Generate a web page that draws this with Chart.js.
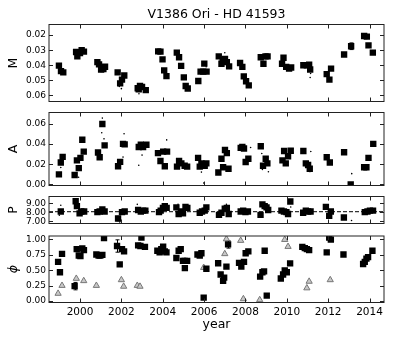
<!DOCTYPE html>
<html>
<head>
<meta charset="utf-8">
<script src="https://cdn.jsdelivr.net/npm/chart.js@4.4.0/dist/chart.umd.min.js"></script>
<style>
  body { margin: 0; background: #fff; }
  #wrap { position: relative; width: 403px; height: 337px; }
  canvas { position: absolute; left: 0; }
</style>
</head>
<body>
<div id="wrap">
  <canvas id="chartM" width="403" height="106" style="top:0px"></canvas>
  <canvas id="chartA" width="403" height="82" style="top:108px"></canvas>
  <canvas id="chartP" width="403" height="36" style="top:192px"></canvas>
  <canvas id="chartPh" width="403" height="106" style="top:231px"></canvas>
</div>
<script>
const xTicks = [2000, 2002, 2004, 2006, 2008, 2010, 2012, 2014];
const mTicks = [0.02, 0.03, 0.04, 0.05, 0.06];
const aTicks = [0.00, 0.02, 0.04, 0.06];
const pTicks = [7, 8, 9];
const phTicks = [0, 0.25, 0.5, 0.75, 1];

// M panel
const mYear = [
  1998.98, 1999.08, 1999.19,
  1999.81, 1999.87, 2000.00, 2000.08, 2000.19,
  2000.84, 2000.92, 2001.02, 2001.13, 2001.21,
  2001.82, 2001.94, 2002.03, 2002.14,
  2002.79, 2002.84, 2002.90, 2003.00, 2003.18,
  2003.78, 2003.89, 2003.99, 2004.07, 2004.18,
  2004.68, 2004.79, 2004.89, 2005.02, 2005.11, 2005.21,
  2005.72, 2005.83, 2005.96, 2006.01, 2006.12,
  2006.71, 2006.84, 2006.90, 2007.01, 2007.10, 2007.21,
  2007.74, 2007.85, 2007.92, 2008.03, 2008.16,
  2008.74, 2008.87, 2008.97, 2009.07,
  2009.77, 2009.84, 2009.97, 2010.11, 2010.21,
  2010.80, 2010.97, 2011.08, 2011.13,
  2011.93, 2012.06, 2012.14,
  2012.77, 2013.11,
  2013.74, 2013.87, 2013.95, 2014.16
];
const mVal = [
  0.0402, 0.0439, 0.0447,
  0.0312, 0.0341, 0.0320, 0.0300, 0.0310,
  0.0379, 0.0394, 0.0428, 0.0425, 0.0410,
  0.0447, 0.0520, 0.0495, 0.0468,
  0.0552, 0.0560, 0.0537, 0.0544, 0.0565,
  0.0308, 0.0310, 0.0361, 0.0434, 0.0472,
  0.0316, 0.0347, 0.0404, 0.0480, 0.0537, 0.0554,
  0.0504, 0.0442, 0.0442, 0.0389, 0.0442,
  0.0341, 0.0390, 0.0365, 0.0358, 0.0379, 0.0407,
  0.0385, 0.0411, 0.0474, 0.0506, 0.0533,
  0.0347, 0.0390, 0.0341, 0.0341,
  0.0390, 0.0350, 0.0411, 0.0422, 0.0415,
  0.0400, 0.0400, 0.0396, 0.0428,
  0.0459, 0.0495, 0.0422,
  0.0329, 0.0274,
  0.0206, 0.0210, 0.0268, 0.0316
];
const mDotYear = [2002.00, 2002.85, 2007.00, 2011.13, 2011.15, 2006.10, 2001.90];
const mDotVal = [0.0555, 0.0589, 0.0317, 0.0481, 0.0455, 0.0410, 0.0540];
const mErr = [[2013.11, 0.0274, 0.0022]];

// A panel
const aYear = [
  1998.98, 1999.07, 1999.16,
  1999.74, 1999.85, 1999.94, 2000.02, 2000.11, 2000.18,
  2000.87, 2000.95, 2001.08, 2001.19,
  2001.84, 2001.94, 2002.08, 2002.16,
  2002.84, 2002.94, 2003.05, 2003.21,
  2003.77, 2003.89, 2004.02, 2004.10, 2004.21,
  2004.69, 2004.79, 2004.90, 2005.06, 2005.18,
  2005.71, 2005.79, 2005.87, 2006.03, 2006.11,
  2006.69, 2006.84, 2006.92, 2007.01, 2007.10, 2007.18,
  2007.77, 2007.85, 2007.93, 2008.01, 2008.14,
  2008.74, 2008.85, 2008.98, 2009.06,
  2009.79, 2009.87, 2009.95, 2010.06, 2010.19,
  2010.80, 2010.92, 2011.03, 2011.11,
  2011.93, 2012.08,
  2012.77, 2013.09,
  2013.74, 2013.85, 2013.95, 2014.18
];
const aVal = [
  0.0100, 0.0217, 0.0272,
  0.0093, 0.0238, 0.0161, 0.0263, 0.0441, 0.0324,
  0.0315, 0.0269, 0.0597, 0.0386,
  0.0180, 0.0223, 0.0401, 0.0395,
  0.0370, 0.0392, 0.0370, 0.0392,
  0.0309, 0.0232, 0.0324, 0.0180, 0.0324,
  0.0176, 0.0232, 0.0208, 0.0185, 0.0176,
  0.0263, 0.0176, 0.0208, 0.0185, 0.0208,
  0.0118, 0.0254, 0.0170, 0.0340, 0.0309, 0.0155,
  0.0361, 0.0370, 0.0355, 0.0222, 0.0254,
  0.0377, 0.0185, 0.0254, 0.0208,
  0.0238, 0.0330, 0.0208, 0.0278, 0.0333,
  0.0330, 0.0208, 0.0192, 0.0155,
  0.0269, 0.0217,
  0.0318, 0.0000,
  0.0170, 0.0170, 0.0263, 0.0401
];
const aDotYear = [2001.08, 2001.05, 2001.16, 2002.13, 2002.08, 2002.84, 2003.00, 2004.19, 2005.98,
  2005.87, 1999.93, 1999.07, 2008.25, 2008.79, 2009.11, 2008.82, 2011.16, 2013.14, 2011.12];
const aDotVal = [0.0655, 0.0510, 0.0450, 0.0500, 0.0270, 0.0190, 0.0290, 0.0440, 0.0015,
  0.0122, 0.0072, 0.0167, 0.0365, 0.0306, 0.0125, 0.0148, 0.0325, 0.0107, 0.0127];
const aErr = [[2000.11, 0.0441, 0.0022], [2001.08, 0.0597, 0.0015], [2002.08, 0.0401, 0.0015],
  [2007.01, 0.0340, 0.0020], [2008.74, 0.0377, 0.0020], [2010.19, 0.0333, 0.0020], [2012.77, 0.0318, 0.0012]];

// P panel
const pYear = [
  1999.07, 1999.79, 1999.85, 1999.98, 2000.06, 2000.20,
  2000.84, 2000.95, 2001.08, 2001.19,
  2001.84, 2002.03, 2002.16,
  2002.81, 2002.94, 2003.05, 2003.16,
  2003.82, 2003.90, 2004.01, 2004.10, 2004.19,
  2004.66, 2004.77, 2004.88, 2004.98, 2005.10, 2005.19,
  2005.79, 2005.90, 2006.03, 2006.11,
  2006.72, 2006.84, 2007.00, 2007.10, 2007.19,
  2007.77, 2007.89, 2008.00, 2008.12,
  2008.73, 2008.82, 2008.93, 2009.02, 2009.10,
  2009.74, 2009.86, 2009.98, 2010.06, 2010.17,
  2010.79, 2010.92, 2011.03, 2011.15,
  2011.89, 2012.05, 2012.13,
  2012.76,
  2013.77, 2013.90, 2014.02, 2014.17
];
const pVal = [
  8.10, 9.24, 8.70, 7.90, 8.10, 8.10,
  8.03, 8.10, 8.33, 8.10,
  7.32, 8.03, 8.10,
  8.27, 8.10, 8.20, 8.20,
  8.03, 8.20, 8.50, 8.70, 8.50,
  8.56, 7.82, 8.10, 7.90, 8.60, 8.50,
  7.97, 8.10, 8.20, 8.56,
  7.73, 7.97, 8.42, 8.50, 7.82,
  8.10, 8.20, 8.03, 8.10,
  7.73, 8.90, 8.70, 8.56, 8.27,
  8.20, 8.10, 8.03, 7.82, 9.21,
  7.97, 8.20, 8.10, 8.10,
  8.62, 7.62, 8.10,
  7.44,
  8.03, 8.10, 8.20, 8.20
];
const pDotYear = [1999.07, 2002.77, 2004.74, 2007.08, 2001.92, 2013.13, 2010.19, 1999.00, 2004.90];
const pDotVal = [8.80, 8.90, 8.90, 8.90, 6.94, 7.10, 8.60, 7.70, 7.70];
const pMean = 8.08;
const pErr = [[2001.84, 7.32, 0.25]];

// phase panel
const phYear = [
  1998.94, 1999.03, 1999.13,
  1999.74, 1999.84, 1999.94, 2000.02, 2000.11, 2000.19,
  2000.79, 2000.90, 2000.98, 2001.08, 2001.16,
  2001.79, 2001.92, 2002.03, 2002.13,
  2002.81, 2002.92, 2002.97, 2003.14,
  2003.74, 2003.85, 2003.93, 2004.02, 2004.10, 2004.18,
  2004.66, 2004.77, 2004.87, 2004.98, 2005.06, 2005.07, 2005.18,
  2005.68, 2005.79, 2005.87, 2005.98, 2006.11,
  2006.68, 2006.80, 2006.92, 2006.97, 2007.08, 2007.16,
  2007.69, 2007.80, 2007.93, 2008.01, 2008.14,
  2008.71, 2008.82, 2008.90, 2008.93, 2009.03,
  2009.71, 2009.82, 2009.90, 2010.00, 2010.16,
  2010.75, 2010.87, 2010.97, 2011.08,
  2011.93, 2012.05, 2012.13,
  2012.74,
  2013.69, 2013.77, 2013.85, 2013.93, 2014.14
];
const phVal = [
  0.635, 0.466, 0.765,
  0.242, 0.842, 0.738, 0.728, 0.851, 0.826,
  0.754, 0.738, 0.738, 0.749, 1.020,
  0.892, 0.595, 0.842, 0.805,
  0.903, 0.892, 1.030, 0.877,
  0.815, 0.789, 0.842, 0.882, 0.805, 0.789,
  0.697, 0.815, 0.842, 0.651, 0.651, 0.534, 0.651,
  0.754, 0.738, 0.774, 0.057, 0.523,
  0.612, 0.431, 0.328, 0.380, 0.558, 0.918,
  0.618, 0.557, 0.635, 0.774, 0.805,
  0.395, 0.466, 0.482, 0.815, 0.088,
  0.365, 0.431, 0.497, 0.466, 0.611,
  0.877, 0.857, 0.842, 0.826,
  0.789, 1.030, 0.995,
  0.754,
  0.600, 0.635, 0.688, 0.712, 0.815
];
const triYear = [1998.94, 1999.13, 1999.82, 2000.18, 2000.79, 2002.00, 2002.11, 2002.77, 2002.90, 2005.98,
  2007.00, 2007.08, 2007.77, 2007.90, 2008.69, 2009.90, 2010.06, 2010.97, 2011.08, 2012.10];
const triVal = [0.123, 0.251, 0.365, 0.328, 0.251, 0.343, 0.237, 0.251, 0.237, 0.542,
  0.765, 1.005, 0.980, 0.035, 0.020, 0.995, 0.882, 0.211, 0.318, 0.343];
const phErr = [[1999.74, 0.242, 0.06], [2001.79, 0.892, 0.10], [2007.16, 0.918, 0.06]];

Chart.defaults.font.family = 'DejaVu Sans';
Chart.defaults.color = '#000';

const pts = (xs, ys) => xs.map((x, i) => ({x: x, y: ys[i]}));

// inward ticks on all sides plus the box, like the original figure
const frame = {
  id: 'frame',
  afterDatasetsDraw(chart) {
    const {ctx, chartArea: a, scales: {x, y}} = chart;
    ctx.save();
    ctx.strokeStyle = '#222';
    ctx.lineWidth = 1;
    ctx.beginPath();
    xTicks.forEach(v => {
      const px = Math.round(x.getPixelForValue(v)) + 0.5;
      ctx.moveTo(px, a.top); ctx.lineTo(px, a.top + 4);
      ctx.moveTo(px, a.bottom); ctx.lineTo(px, a.bottom - 4);
    });
    y.ticks.forEach(t => {
      const py = Math.round(y.getPixelForValue(t.value)) + 0.5;
      ctx.moveTo(a.left, py); ctx.lineTo(a.left + 4, py);
      ctx.moveTo(a.right, py); ctx.lineTo(a.right - 4, py);
    });
    ctx.stroke();
    ctx.strokeRect(a.left, a.top, a.right - a.left, a.bottom - a.top);
    ctx.restore();
  }
};

function errBars(list) {
  return {
    id: 'errbars',
    beforeDatasetsDraw(chart) {
      const {ctx, scales: {x, y}} = chart;
      ctx.save();
      ctx.strokeStyle = '#000';
      ctx.lineWidth = 1;
      ctx.beginPath();
      list.forEach(([xv, yv, e]) => {
        const px = Math.round(x.getPixelForValue(xv)) + 0.5;
        const y1 = y.getPixelForValue(yv - e), y2 = y.getPixelForValue(yv + e);
        ctx.moveTo(px, y1); ctx.lineTo(px, y2);
        ctx.moveTo(px - 2, y1); ctx.lineTo(px + 2, y1);
        ctx.moveTo(px - 2, y2); ctx.lineTo(px + 2, y2);
      });
      ctx.stroke();
      ctx.restore();
    }
  };
}

function panel(id, o) {
  const datasets = [
    {data: pts(o.year, o.val), pointStyle: 'rect', radius: 4.5, backgroundColor: '#000', borderColor: '#000', borderWidth: 0, clip: 0}
  ];
  if (o.tri) datasets.push({data: pts(o.tri[0], o.tri[1]), pointStyle: 'triangle', radius: 3.6,
    backgroundColor: '#c8c8c8', borderColor: '#777', borderWidth: 1, clip: 0});
  if (o.dots) datasets.push({data: pts(o.dots[0], o.dots[1]), pointStyle: 'circle', radius: 0.8,
    backgroundColor: '#000', borderWidth: 0});
  if (o.mean !== undefined) datasets.push({type: 'line', data: [{x: 1998.5, y: o.mean}, {x: 2014.7, y: o.mean}],
    borderColor: '#000', borderWidth: 1, borderDash: [4, 2], pointRadius: 0});

  return new Chart(document.getElementById(id), {
    type: 'scatter',
    data: {datasets: datasets},
    options: {
      responsive: false,
      animation: false,
      layout: {padding: {left: 0, right: 19, top: o.padTop, bottom: o.padBottom}},
      plugins: {
        legend: {display: false},
        tooltip: {enabled: false},
        title: o.title ? {display: true, text: o.title, fullSize: false,
          font: {size: 12.5, weight: 'normal'}, color: '#000', padding: {top: 7.5, bottom: 2}} : {display: false}
      },
      scales: {
        x: {
          type: 'linear', min: 1998.5, max: 2014.7,
          display: !!o.showX,
          afterBuildTicks: s => { s.ticks = xTicks.map(v => ({value: v})); },
          afterFit: s => { s.height = o.showX ? 34.5 : 0; s.paddingLeft = 0; s.paddingRight = 0; },
          grid: {drawOnChartArea: false, drawTicks: false},
          border: {display: false},
          ticks: {font: {size: 10.5}, padding: 3.5, maxRotation: 0, autoSkip: false, callback: v => String(v)},
          title: {display: !!o.showX, text: 'year', font: {size: 12.5}, padding: {top: 0, bottom: 4.5}}
        },
        y: {
          type: 'linear', min: o.min, max: o.max, reverse: !!o.reverse,
          afterBuildTicks: s => { s.ticks = o.ticks.map(v => ({value: v})); },
          afterFit: s => { s.width = 49; s.paddingTop = 0; s.paddingBottom = 0; },
          grid: {drawOnChartArea: false, drawTicks: false},
          border: {display: false},
          ticks: {font: {size: 9}, padding: 3, autoSkip: false, callback: v => v.toFixed(2)},
          title: {display: true, text: o.label, font: {size: 12.5, style: o.italic ? 'italic' : 'normal'},
            padding: {top: 6.5, bottom: 0}}
        }
      }
    },
    plugins: [frame, errBars(o.err || [])]
  });
}

panel('chartM', {year: mYear, val: mVal, dots: [mDotYear, mDotVal], err: mErr, ticks: mTicks,
  min: 0.013, max: 0.064, reverse: true, label: 'M', title: 'V1386 Ori - HD 41593', padTop: 0, padBottom: 1.5});
panel('chartA', {year: aYear, val: aVal, dots: [aDotYear, aDotVal], err: aErr, ticks: aTicks,
  min: -0.001, max: 0.071, label: 'A', padTop: 1, padBottom: 1});
panel('chartP', {year: pYear, val: pVal, dots: [pDotYear, pDotVal], err: pErr, ticks: pTicks, mean: pMean,
  min: 6.77, max: 9.77, label: 'P', padTop: 1, padBottom: 1});
panel('chartPh', {year: phYear, val: phVal, tri: [triYear, triVal], err: phErr, ticks: phTicks,
  min: -0.023, max: 1.054, label: 'ϕ', italic: true, showX: true, padTop: 1.5, padBottom: 0});
</script>
</body>
</html>
